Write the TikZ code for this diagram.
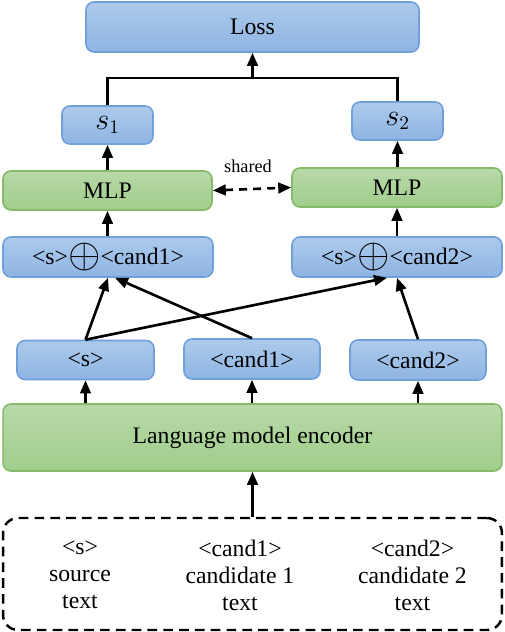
\documentclass[tikz,border=0pt]{standalone}
\usepackage{fontspec}
\setmainfont{Liberation Serif}
\usetikzlibrary{arrows.meta}
\definecolor{blueline}{RGB}{112,160,218}
\definecolor{bluetop}{RGB}{172,202,235}
\definecolor{bluebot}{RGB}{143,180,227}
\definecolor{greenline}{RGB}{132,186,104}
\definecolor{greentop}{RGB}{184,217,168}
\definecolor{greenbot}{RGB}{160,205,140}
\newcommand{\catplus}{\raisebox{-0.3ex}{\scalebox{1.65}{$\oplus$}}}
\begin{document}
\begin{tikzpicture}[x=0.02cm,y=-0.02cm,>={Triangle[length=2.6mm,width=2.1mm]},line width=1.5pt,
  font=\fontsize{13.5}{15.3}\selectfont,
  bluebox/.style={draw=blueline,line width=0.9pt,rounded corners=4.5pt,top color=bluetop,bottom color=bluebot,inner sep=0pt},
  greenbox/.style={draw=greenline,line width=0.9pt,rounded corners=4.5pt,top color=greentop,bottom color=greenbot,inner sep=0pt},
  inbox/.style={draw,line width=1.4pt,dash pattern=on 5.5pt off 3.5pt,rounded corners=0.3cm,inner sep=0pt}]
\useasboundingbox (0,0) rectangle (504,632);
% upper part
\node[bluebox,minimum width=6.66cm,minimum height=1cm] (loss) at (252.5,27) {Loss};
\node[bluebox,minimum width=1.82cm,minimum height=0.76cm,font=\fontsize{16}{18}\selectfont] (s1) at (107.5,125) {$s_1$};
\node[bluebox,minimum width=1.82cm,minimum height=0.76cm,font=\fontsize{16}{18}\selectfont] (s2) at (397.5,121) {$s_2$};
\node[greenbox,minimum width=4.18cm,minimum height=0.78cm] (mlp1) at (107.5,190.5) {MLP};
\node[greenbox,minimum width=4.2cm,minimum height=0.78cm] (mlp2) at (397,187.5) {MLP};
\node[font=\fontsize{10.4}{12}\selectfont] (shr) at (248,166) {shared};
\node[bluebox,minimum width=4.2cm,minimum height=0.8cm] (cat1) at (108,257) {<s>\catplus<cand1>};
\node[bluebox,minimum width=4.2cm,minimum height=0.8cm] (cat2) at (397,257) {<s>\catplus<cand2>};
% token outputs
\node[bluebox,minimum width=2.74cm,minimum height=0.78cm] (hs) at (85.5,360) {<s>};
\node[bluebox,minimum width=2.72cm,minimum height=0.8cm] (hc1) at (252,359) {<cand1>};
\node[bluebox,minimum width=2.72cm,minimum height=0.8cm] (hc2) at (418,360) {<cand2>};
\node[greenbox,minimum width=9.98cm,minimum height=1.34cm] (enc) at (252.5,437.5) {Language model encoder};
% input
\node[inbox,minimum width=9.98cm,minimum height=2.24cm] (input) at (252.5,574) {};
\node[align=center] (src) at (80,575) {<s>\\source\\text};
\node[align=center] (cd1) at (240,575) {<cand1>\\candidate 1\\text};
\node[align=center] (cd2) at (412.5,575) {<cand2>\\candidate 2\\text};
% connectors
\draw[->] (input.north) -- (enc.south);
\draw[->] (enc.north -| hs) -- (hs.south);
\draw[->] (enc.north -| hc1) -- (hc1.south);
\draw[->] (enc.north -| hc2) -- (hc2.south);
\draw[->] (hs.north) -- (cat1.south);
\draw[->] (hs.north) -- ([xshift=-0.2cm]cat2.south);
\draw[->] (hc1.north) -- ([xshift=0.14cm]cat1.south);
\draw[->] (hc2.north) -- (cat2.south);
\draw[->] (cat1.north -| mlp1) -- (mlp1.south);
\draw[->] (cat2.north -| mlp2) -- (mlp2.south);
\draw[->] (mlp1.north -| s1) -- (s1.south);
\draw[->] (mlp2.north -| s2) -- (s2.south);
\draw[<->,dash pattern=on 4.5pt off 3.5pt] (mlp1.east) -- (mlp2.west);
\coordinate (top) at (252.5,78);
\draw (s1.north) |- (top) -| (s2.north);
\draw[->] (top) -- (loss.south);
\end{tikzpicture}
\end{document}
